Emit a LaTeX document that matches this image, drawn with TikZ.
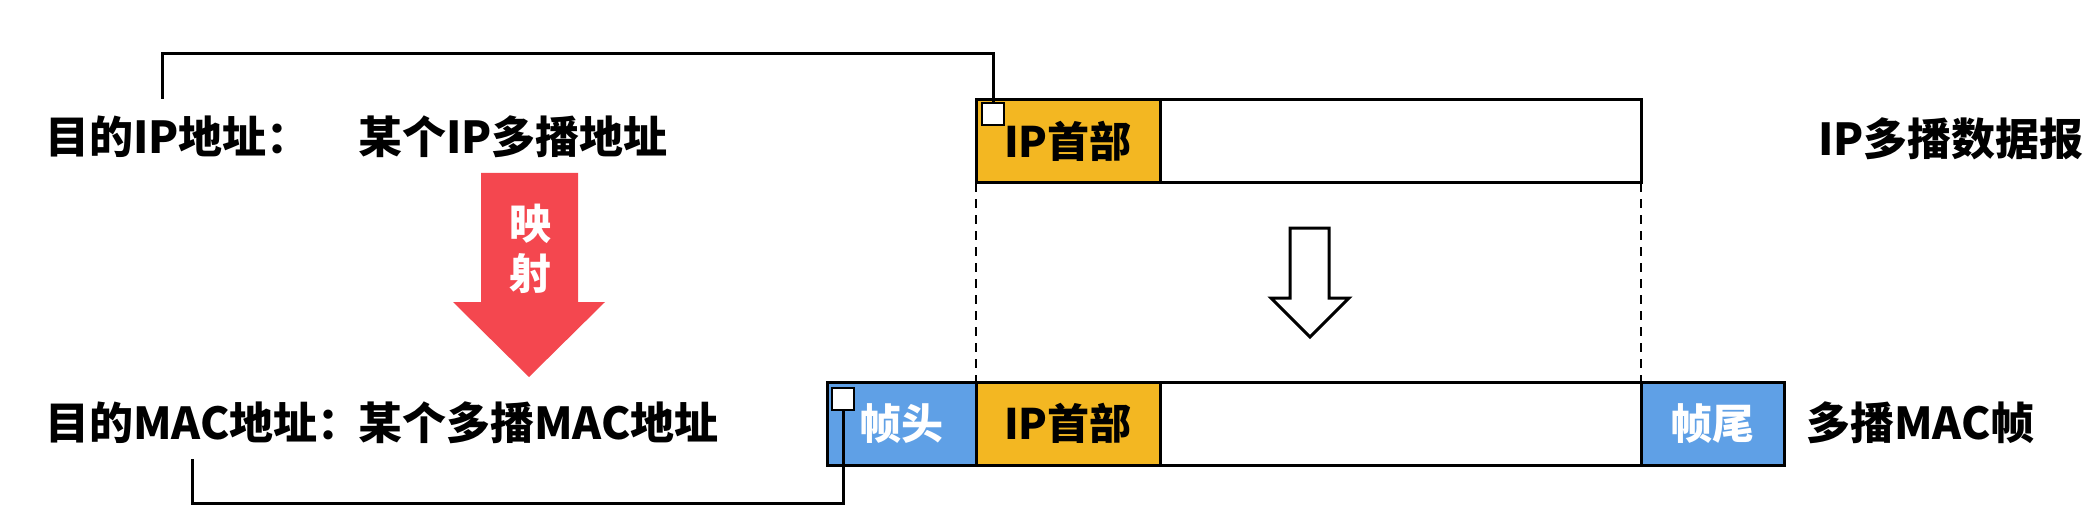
\documentclass[tikz,border=0pt]{standalone}
\usepackage{fontspec}
\setmainfont{Noto Sans CJK SC}
\definecolor{hdrorange}{HTML}{F3B722}
\definecolor{frameblue}{HTML}{5FA0E6}
\definecolor{mapred}{HTML}{F4474F}
\tikzset{
  field/.style={draw=black,line width=3pt,inner sep=0pt,outer sep=0pt,anchor=north west,
    minimum height=83pt,font=\fontsize{42}{50}\selectfont\bfseries},
  iphdr/.style={field,fill=hdrorange,minimum width=184pt},
  machdr/.style={field,fill=frameblue,text=white},
  payload/.style={field,fill=white,minimum width=481pt},
  tagsq/.style={draw=black,line width=2.5pt,fill=white,inner sep=0pt,outer sep=0pt,
    minimum size=22pt,anchor=north west},
  addr/.style={anchor=west,inner xsep=0pt,inner ysep=16pt,
    font=\fontsize{44}{52}\selectfont\bfseries},
  wire/.style={line width=3pt},
  guide/.style={line width=2pt,dash pattern=on 9pt off 7pt},
}

\begin{document}
\begin{tikzpicture}[x=1pt,y=-1pt]
\useasboundingbox (0,0) rectangle (2089,524);

% IP datagram
\node[iphdr] (iphdr1) at (976,100) {IP首部};
\node[payload] (data1) at (iphdr1.north east) {};

% MAC frame
\node[machdr,minimum width=149pt] (fhead) at (827,382) {帧头};
\node[iphdr] (iphdr2) at (fhead.north east) {IP首部};
\node[payload] (data2) at (iphdr2.north east) {};
\node[machdr,minimum width=143pt] (ftail) at (data2.north east) {帧尾};

\draw[guide] (iphdr1.south west) -- (iphdr2.north west);
\draw[guide] (data1.south east) -- (data2.north east);

% address fields
\node[tagsq] (iptag) at (982,103) {};
\node[tagsq] (mactag) at (832,388) {};

% labels
\node[addr] (dstip) at (45,137) {目的IP地址：};
\node[addr] (someip) at (358,137) {某个IP多播地址};
\node[addr] (ipdgram) at (1818,139) {IP多播数据报};
\node[addr] (dstmac) at (45,423) {目的MAC地址：};
\node[addr] (somemac) at (358,423) {某个多播MAC地址};
\node[addr] (macframe) at (1806,423) {多播MAC帧};

\coordinate (ipfoot) at (162,99);
\coordinate (macfoot) at (192,459);
\draw[wire] (ipfoot) -- ++(0,-45) -| (iptag.north);
\draw[wire] (mactag.south) -- ++(0,93) -| (macfoot);

% mapping arrow
\fill[mapred] (481,173) -- (578,173) -- (578,302) -- (605,302) -- (529,377)
  -- (453,302) -- (481,302) -- cycle;
\node[text=white,align=center,inner sep=0pt,
  font=\fontsize{42}{50}\selectfont\bfseries] (maptext) at (530,249) {映\\射};

% hollow arrow
\draw[line width=3pt,fill=white,line join=miter] (1290,228) -- (1329,228)
  -- (1329,298) -- (1349,298) -- (1310,337) -- (1271,298) -- (1290,298) -- cycle;
\end{tikzpicture}
\end{document}
